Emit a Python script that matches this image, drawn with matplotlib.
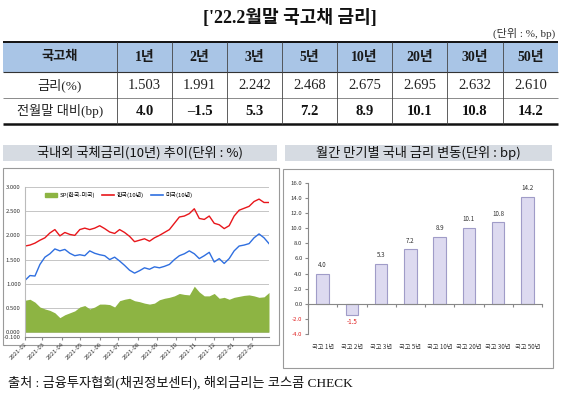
import numpy as np
import pandas as pd
import matplotlib
matplotlib.use('Agg')
import matplotlib.pyplot as plt
import matplotlib.dates as mdates
from matplotlib.patches import Rectangle, Patch
from matplotlib.lines import Line2D
from matplotlib.ticker import FormatStrFormatter

plt.rcParams['font.family'] = ['Noto Sans CJK KR', 'DejaVu Sans']
SERIF = ['Liberation Serif', 'Noto Sans CJK KR']

W, H = 570, 394

# 표 데이터
tenors = ['1년', '2년', '3년', '5년', '10년', '20년', '30년', '50년']
rates = [1.503, 1.991, 2.242, 2.468, 2.675, 2.695, 2.632, 2.610]
changes = [4.0, -1.5, 5.3, 7.2, 8.9, 10.1, 10.8, 14.2]
bar_labels = ['국고 1년', '국고 2년', '국고 3년', '국고 5년', '국고 10년', '국고 20년', '국고 30년', '국고 50년']

# 국내외 국채금리(10년) 추이 - 그림에서 읽은 값
kr10 = [1.78, 1.80, 1.84, 1.90, 1.95, 2.05, 2.12, 1.99, 2.06, 2.02,
        2.00, 2.12, 2.15, 2.12, 2.15, 2.20, 2.14, 2.07, 2.04, 2.12,
        2.06, 1.98, 1.87, 1.90, 1.93, 1.88, 1.95, 2.00, 2.06, 2.12,
        2.25, 2.38, 2.40, 2.45, 2.55, 2.35, 2.33, 2.40, 2.25, 2.22,
        2.14, 2.20, 2.40, 2.52, 2.56, 2.60, 2.70, 2.75, 2.68, 2.68]
us10 = [1.07, 1.17, 1.16, 1.40, 1.55, 1.62, 1.72, 1.68, 1.71, 1.63,
        1.58, 1.60, 1.58, 1.68, 1.63, 1.60, 1.58, 1.50, 1.55, 1.47,
        1.38, 1.28, 1.22, 1.27, 1.33, 1.30, 1.35, 1.33, 1.36, 1.40,
        1.50, 1.58, 1.62, 1.68, 1.62, 1.52, 1.58, 1.65, 1.45, 1.52,
        1.42, 1.52, 1.68, 1.78, 1.80, 1.83, 1.95, 2.03, 1.95, 1.83]
spread = [0.66, 0.68, 0.62, 0.52, 0.48, 0.45, 0.40, 0.30, 0.36, 0.40,
          0.44, 0.52, 0.55, 0.48, 0.52, 0.58, 0.58, 0.57, 0.52, 0.65,
          0.68, 0.70, 0.65, 0.63, 0.60, 0.58, 0.60, 0.67, 0.70, 0.72,
          0.75, 0.80, 0.78, 0.77, 0.95, 0.83, 0.75, 0.75, 0.80, 0.70,
          0.72, 0.68, 0.72, 0.74, 0.76, 0.77, 0.75, 0.72, 0.73, 0.82]
dates = pd.date_range('2021-02-01', '2022-02-28', periods=len(kr10))


def px_axes(x0, y0, x1, y1):
    return fig.add_axes([x0 / W, 1 - y1 / H, (x1 - x0) / W, (y1 - y0) / H])


fig = plt.figure(figsize=(W / 100, H / 100), dpi=100)
fig.patch.set_facecolor('white')

# 배경 레이어 (픽셀 좌표)
bg = fig.add_axes([0, 0, 1, 1])
bg.set_xlim(0, W)
bg.set_ylim(H, 0)
bg.axis('off')

bg.text(290, 18, "['22.2월말 국고채 금리]", ha='center', va='center',
        fontsize=13, fontweight='bold', family=SERIF, color='#111111')
bg.text(555, 33, '(단위 : %, bp)', ha='right', va='center', fontsize=8,
        family=SERIF, color='#333333')

# 표
col_edges = [3, 117, 172, 227, 282, 337, 392, 447, 503, 558]
bg.add_patch(Rectangle((3, 42), 555, 30, facecolor='#A9C5E6', edgecolor='none'))
bg.hlines(42, 3, 558, color='#111111', lw=1.4)
bg.hlines(72, 3, 558, color='#333333', lw=0.8)
bg.hlines(98, 3, 558, color='#777777', lw=0.6)
bg.hlines(124, 3, 558, color='#111111', lw=1.8)
bg.vlines(col_edges[1:-1], 42, 124, color='#444444', lw=0.6)

centers = [(col_edges[i] + col_edges[i + 1]) / 2 for i in range(len(col_edges) - 1)]
bg.text(centers[0], 57, '국고채', ha='center', va='center', fontsize=9.5,
        fontweight='bold', family=SERIF, color='#1a1a1a')
bg.text(centers[0], 85, '금리(%)', ha='center', va='center', fontsize=9.5,
        family=SERIF, color='#222222')
bg.text(centers[0], 111, '전월말 대비(bp)', ha='center', va='center', fontsize=9.5,
        family=SERIF, color='#222222')
for i, t in enumerate(tenors):
    cx = centers[i + 1]
    bg.text(cx, 57, t, ha='center', va='center', fontsize=10, fontweight='bold',
            family=SERIF, color='#1a1a1a')
    bg.text(cx, 85, f'{rates[i]:.3f}', ha='center', va='center', fontsize=10.5,
            family=SERIF, color='#222222')
    bg.text(cx, 111, f'{changes[i]:.1f}'.replace('-', '–'), ha='center', va='center',
            fontsize=10.5, fontweight='bold', family=SERIF, color='#111111')

# 패널 제목
bg.add_patch(Rectangle((3, 145), 274, 16, facecolor='#D6DBE2', edgecolor='none'))
bg.text(140, 153, '국내외 국체금리(10년) 추이(단위 : %)', ha='center', va='center',
        fontsize=9.5, color='#111111')
bg.add_patch(Rectangle((285, 145), 267, 16, facecolor='#D6DBE2', edgecolor='none'))
bg.text(418, 153, '월간 만기별 국내 금리 변동(단위 : bp)', ha='center', va='center',
        fontsize=9.5, color='#111111')

# 차트 테두리
bg.add_patch(Rectangle((3, 168), 276, 177, facecolor='none', edgecolor='#9A9A9A', lw=0.8))
bg.add_patch(Rectangle((283, 169), 270, 199, facecolor='none', edgecolor='#9A9A9A', lw=0.8))

bg.text(8, 382, '출처 : 금융투자협회(채권정보센터), 해외금리는 코스콤 CHECK', ha='left',
        va='center', fontsize=9.5, family=SERIF, color='#111111')

# 왼쪽 차트: 10년 금리 추이
ax1 = px_axes(25, 187, 269, 337)
ax1.fill_between(dates, 0, spread, color='#8DB443', lw=0)
ax1.plot(dates, kr10, color='#E8161B', lw=1.0)
ax1.plot(dates, us10, color='#2F6FE0', lw=1.0)
ax1.set_xlim(dates[0], dates[-1])
ax1.set_ylim(-0.1, 3.0)
ax1.set_yticks([-0.1, 0.0, 0.5, 1.0, 1.5, 2.0, 2.5, 3.0])
ax1.yaxis.set_major_formatter(FormatStrFormatter('%.3f'))
ax1.xaxis.set_major_locator(mdates.MonthLocator())
ax1.xaxis.set_major_formatter(mdates.DateFormatter('%Y-%m'))
ax1.grid(axis='y', color='#BBBBBB', lw=0.6)
ax1.set_axisbelow(True)
for s in ['top', 'right']:
    ax1.spines[s].set_visible(False)
ax1.spines['left'].set_color('#BBBBBB')
ax1.spines['bottom'].set_color('#888888')
ax1.tick_params(axis='y', labelsize=4.3, length=0, pad=3, labelcolor='#333333')
ax1.tick_params(axis='x', labelsize=4.3, length=2, pad=1, labelcolor='#333333',
                color='#888888')
for lab in ax1.get_xticklabels():
    lab.set_rotation(45)
    lab.set_ha('right')
    lab.set_rotation_mode('anchor')

handles = [Patch(color='#8DB443'),
           Line2D([], [], color='#E8161B', lw=1.2),
           Line2D([], [], color='#2F6FE0', lw=1.2)]
ax1.legend(handles, ['SP(한국-미국)', '한국(10년)', '미국(10년)'], loc='upper left',
           bbox_to_anchor=(0.06, 1.0), ncol=3, frameon=False, fontsize=4.3,
           handlelength=2.0, handleheight=0.6, columnspacing=1.2, handletextpad=0.4)

# 오른쪽 차트: 만기별 변동
ax2 = px_axes(308, 183, 542, 334)
x = np.arange(len(changes))
ax2.bar(x, changes, width=0.42, color='#DDDAF0', edgecolor='#A09CC8', lw=0.8)
ax2.set_xlim(-0.5, len(changes) - 0.5)
ax2.set_ylim(-4, 16)
ax2.set_yticks(np.arange(-4, 17, 2))
ax2.yaxis.set_major_formatter(FormatStrFormatter('%.1f'))
ax2.set_xticks(np.arange(-0.5, len(changes), 1.0))
ax2.set_xticklabels([])
for s in ['top', 'right']:
    ax2.spines[s].set_visible(False)
ax2.spines['bottom'].set_position(('data', 0))
ax2.spines['bottom'].set_color('#888888')
ax2.spines['left'].set_color('#888888')
ax2.tick_params(axis='y', labelsize=4.3, length=2, pad=2, color='#888888',
                labelcolor='#333333')
ax2.tick_params(axis='x', length=2, color='#888888')
for lab, v in zip(ax2.get_yticklabels(), ax2.get_yticks()):
    if v < 0:
        lab.set_color('#E02020')

for i, v in enumerate(changes):
    if v >= 0:
        ax2.text(i, v + 0.6, f'{v:.1f}', ha='center', va='bottom', fontsize=4.5,
                 color='#333333')
    else:
        ax2.text(i, v - 0.4, f'{v:.1f}', ha='center', va='top', fontsize=4.5,
                 color='#E02020')
    ax2.text(i, -0.06, bar_labels[i], transform=ax2.get_xaxis_transform(),
             ha='center', va='top', fontsize=4.5, color='#333333')

fig.savefig('out.png', dpi=100)
